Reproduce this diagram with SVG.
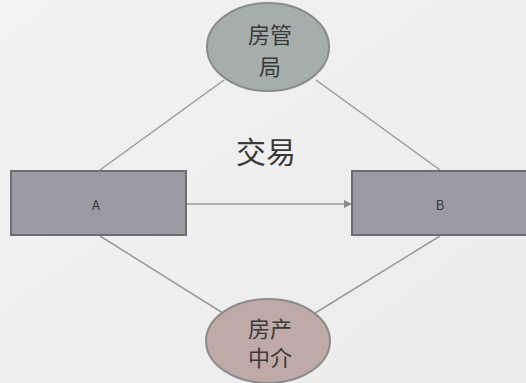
<svg xmlns="http://www.w3.org/2000/svg" width="526" height="383" viewBox="0 0 526 383">
<style>
.t{font-family:"Noto Sans CJK SC","Liberation Sans",sans-serif;fill:#3a3a3a;text-anchor:middle}
.box{fill:#9c9ba4;stroke:#6e6e72;stroke-width:2}
.ln{stroke:#9a9a9a;stroke-width:1.5;fill:none}
</style>
<defs>
<linearGradient id="bg" x1="0" y1="0" x2="1" y2="1">
<stop offset="0" stop-color="#f2f2f2"/><stop offset="1" stop-color="#ececec"/>
</linearGradient>
<marker id="ar" markerWidth="8" markerHeight="8" refX="7" refY="4" orient="auto" markerUnits="userSpaceOnUse">
<path d="M0,0 L8,4 L0,8 Z" fill="#8a8a8a"/>
</marker>
</defs>
<rect width="526" height="383" fill="url(#bg)"/>
<g id="connectors">
<line class="ln" x1="224" y1="80" x2="100" y2="170"/>
<line class="ln" x1="316" y1="80" x2="440" y2="170"/>
<line class="ln" x1="100" y1="236" x2="226" y2="315"/>
<line class="ln" x1="440" y1="236" x2="312" y2="315"/>
<line class="ln" x1="187" y1="204" x2="351" y2="204" marker-end="url(#ar)"/>
</g>
<g id="label-jiaoyi"><text class="t" x="266" y="163" font-size="30">交易</text></g>
<g id="node-A">
<rect class="box" x="11" y="171" width="175" height="64"/>
<text class="t" x="96" y="210" font-size="13">A</text>
</g>
<g id="node-B">
<rect class="box" x="352" y="171" width="175" height="64"/>
<text class="t" x="440" y="210" font-size="13">B</text>
</g>
<g id="node-fgj">
<ellipse cx="268" cy="47" rx="61" ry="44" fill="#a6adad" stroke="#888c8c" stroke-width="2"/>
<text class="t" x="270" y="43" font-size="22">房管</text>
<text class="t" x="270" y="75" font-size="22">局</text>
</g>
<g id="node-fczj">
<ellipse cx="268" cy="341" rx="62" ry="42" fill="#bfaaa8" stroke="#8c8a8a" stroke-width="2"/>
<text class="t" x="270" y="337" font-size="22">房产</text>
<text class="t" x="270" y="366" font-size="22">中介</text>
</g>
</svg>
